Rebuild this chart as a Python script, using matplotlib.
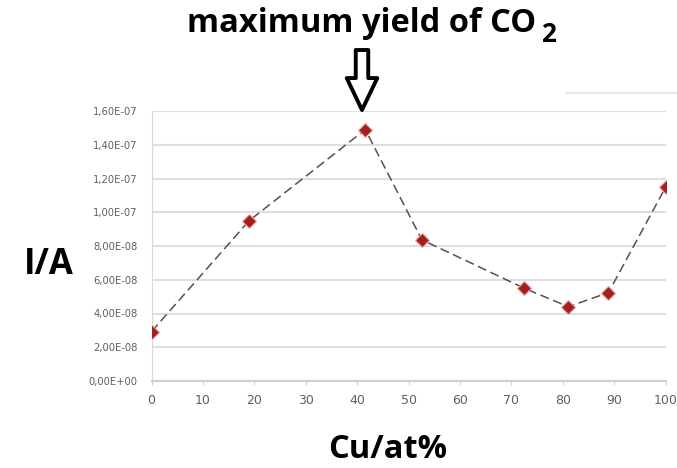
import matplotlib
matplotlib.use("Agg")
import matplotlib.pyplot as plt
from matplotlib.lines import Line2D
from matplotlib.ticker import FuncFormatter

# Cu content (at%) and current (A)
cu_at = [0, 19, 41.6, 52.6, 72.5, 81.1, 88.9, 100]
current = [2.93e-08, 9.5e-08, 1.49e-07, 8.37e-08, 5.5e-08, 4.4e-08, 5.24e-08, 1.147e-07]

x_ticks = [0, 10, 20, 30, 40, 50, 60, 70, 80, 90, 100]
y_ticks = [0, 2e-08, 4e-08, 6e-08, 8e-08, 1e-07, 1.2e-07, 1.4e-07, 1.6e-07]

W, H = 677, 468
fig = plt.figure(figsize=(W / 100, H / 100), dpi=100)
ax = fig.add_axes([151.5 / W, 1 - 381 / H, 514 / W, 270 / H])

bold = "Open Sans"

ax.plot(cu_at, current, linestyle=(0, (6, 3)), color="#5a4e4e", lw=1.1, zorder=2)
ax.plot(cu_at, current, linestyle="none", marker="D", markersize=7.5,
        markerfacecolor="#a3201f", markeredgecolor="#eaa5a5", markeredgewidth=0.8, zorder=3)

ax.set_xlim(0, 100)
ax.set_ylim(0, 1.6e-07)
ax.set_xticks(x_ticks)
ax.set_yticks(y_ticks)


def sci_comma(v, pos):
    s = "%.2E" % v
    s = s.replace(".", ",")
    return s


ax.yaxis.set_major_formatter(FuncFormatter(sci_comma))
ax.grid(axis="y", color="#dedede", lw=1.5)
ax.set_axisbelow(True)
for side in ["top", "right"]:
    ax.spines[side].set_visible(False)
ax.spines["left"].set_color("#d9d9d9")
ax.spines["bottom"].set_color("#cfcfcf")
ax.spines["bottom"].set_linewidth(1.5)
ax.tick_params(axis="y", length=0, pad=10, labelsize=7.2, labelcolor="#606060")
ax.tick_params(axis="x", length=3, color="#cfcfcf", pad=6, labelsize=9, labelcolor="#606060")

# labels and annotation
fig.text(361.5 / W, 1 - 32 / H, "maximum yield of CO", ha="center", va="baseline",
         fontsize=23.5, fontweight="bold", family=bold)
fig.text(549 / W, 1 - 42 / H, "2", ha="center", va="baseline",
         fontsize=19, fontweight="bold", family=bold)
fig.text(49 / W, 1 - 265 / H, "I/A", ha="center", va="center",
         fontsize=25, fontweight="bold", family=bold)
fig.text(388 / W, 1 - 449 / H, "Cu/at%", ha="center", va="center",
         fontsize=23.5, fontweight="bold", family=bold)

ax.annotate("", xy=(362, H - 110), xycoords="figure pixels",
            xytext=(362, H - 50), textcoords="figure pixels",
            arrowprops=dict(arrowstyle="simple,head_length=1.15,head_width=1.1,tail_width=0.45",
                            fc="white", ec="black", lw=2.8, mutation_scale=20,
                            shrinkA=0, shrinkB=0))

fig.lines.append(Line2D([567 / W, 1], [1 - 93 / H, 1 - 93 / H], transform=fig.transFigure,
                        color="#e6e6e6", lw=1.5))

fig.savefig("out.png", dpi=100)
